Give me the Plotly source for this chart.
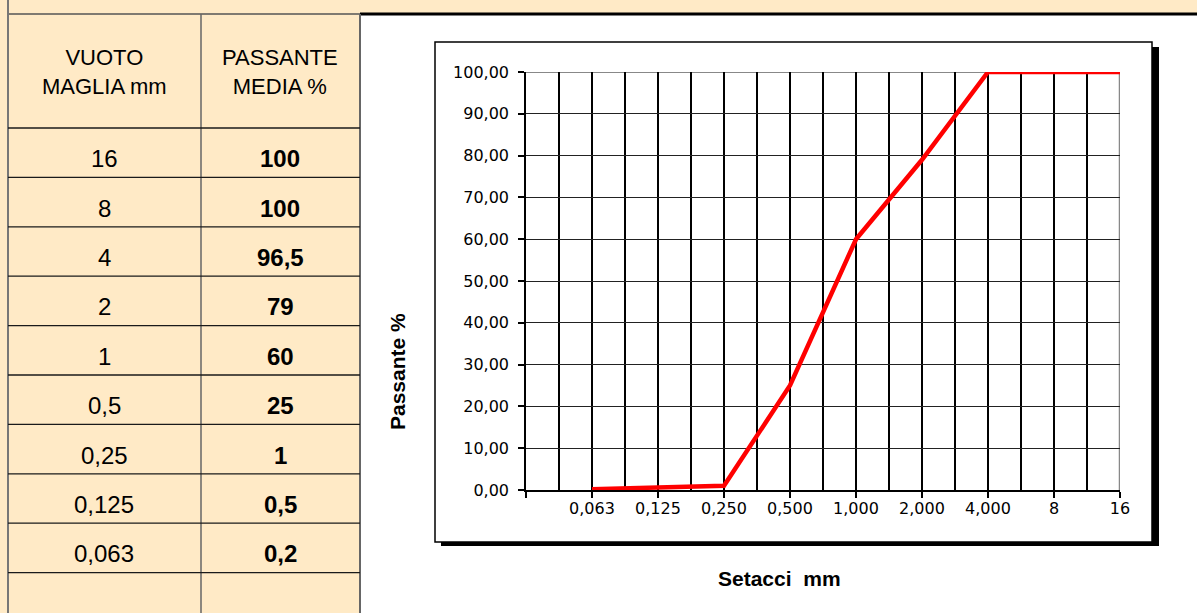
import plotly.graph_objects as go

# ---- data ----
table_sieves = ["16", "8", "4", "2", "1", "0,5", "0,25", "0,125", "0,063"]
table_passing = ["100", "100", "96,5", "79", "60", "25", "1", "0,5", "0,2"]
chart_labels = ["0,063", "0,125", "0,250", "0,500", "1,000", "2,000", "4,000", "8", "16"]
chart_values = [0.2, 0.5, 1, 25, 60, 79, 100, 100, 100]

W, H = 1197, 613
BEIGE = "#FFEAC6"


def fx(x):
    return x / W


def fy(y):
    return 1 - y / H


shapes = []
annotations = []

shapes.append(dict(type="rect", xref="paper", yref="paper", x0=fx(361), x1=1, y0=0, y1=fy(14),
                   fillcolor="white", line=dict(width=0), layer="below"))
shapes.append(dict(type="rect", xref="paper", yref="paper", x0=fx(441), x1=fx(1159), y0=fy(546), y1=fy(47),
                   fillcolor="black", line=dict(width=0), layer="below"))
shapes.append(dict(type="rect", xref="paper", yref="paper", x0=fx(435), x1=fx(1152), y0=fy(542), y1=fy(42),
                   fillcolor="white", line=dict(color="black", width=1.5), layer="below"))
shapes.append(dict(type="line", xref="paper", yref="paper", x0=fx(360), x1=1, y0=fy(14), y1=fy(14),
                   line=dict(color="black", width=3)))
shapes.append(dict(type="line", xref="paper", yref="paper", x0=fx(8), x1=fx(360), y0=fy(14), y1=fy(14),
                   line=dict(color="#555555", width=1.5)))
shapes.append(dict(type="line", xref="paper", yref="paper", x0=fx(8), x1=fx(8), y0=0, y1=1,
                   line=dict(color="#777777", width=2)))
shapes.append(dict(type="line", xref="paper", yref="paper", x0=fx(201), x1=fx(201), y0=0, y1=fy(14),
                   line=dict(color="#666666", width=1.5)))
shapes.append(dict(type="line", xref="paper", yref="paper", x0=fx(360), x1=fx(360), y0=0, y1=fy(14),
                   line=dict(color="#666666", width=2)))

header_bottom = 128
row_h = 49.4
text_drop = 6
n_rows = len(table_sieves) + 1
for i in range(n_rows):
    yy = header_bottom + row_h * i
    shapes.append(dict(type="line", xref="paper", yref="paper", x0=fx(8), x1=fx(360), y0=fy(yy), y1=fy(yy),
                       line=dict(color="#1a1a1a", width=1.3)))

TFONT = "Liberation Sans, Arial, sans-serif"
annotations.append(dict(xref="paper", yref="paper", x=fx(104), y=fy(72), text="VUOTO<br>MAGLIA mm",
                        showarrow=False, font=dict(family=TFONT, size=22, color="black"),
                        xanchor="center", yanchor="middle"))
annotations.append(dict(xref="paper", yref="paper", x=fx(280), y=fy(72), text="PASSANTE<br>MEDIA %",
                        showarrow=False, font=dict(family=TFONT, size=22, color="black"),
                        xanchor="center", yanchor="middle"))
for i, (s, p) in enumerate(zip(table_sieves, table_passing)):
    cy = header_bottom + row_h * (i + 0.5) + text_drop
    annotations.append(dict(xref="paper", yref="paper", x=fx(104), y=fy(cy), text=s, showarrow=False,
                            font=dict(family=TFONT, size=24, color="black"), xanchor="center", yanchor="middle"))
    annotations.append(dict(xref="paper", yref="paper", x=fx(280), y=fy(cy), text="<b>" + p + "</b>",
                            showarrow=False, font=dict(family=TFONT, size=24, color="black"),
                            xanchor="center", yanchor="middle"))

annotations.append(dict(xref="paper", yref="paper", x=fx(397), y=fy(372), text="<b>Passante %</b>",
                        textangle=-90, showarrow=False, font=dict(family=TFONT, size=21, color="black"),
                        xanchor="center", yanchor="middle"))
annotations.append(dict(xref="paper", yref="paper", x=fx(779), y=fy(578), text="<b>Setacci\u00a0 mm</b>",
                        showarrow=False, font=dict(family=TFONT, size=21, color="black"),
                        xanchor="center", yanchor="middle"))

xs = list(range(len(chart_labels)))

shapes.append(dict(type="line", xref="x", yref="paper", x0=xs[-1], x1=xs[-1], y0=fy(490), y1=fy(72),
                   line=dict(color="#888888", width=2.5), layer="between"))
shapes.append(dict(type="line", xref="paper", yref="y", x0=fx(526), x1=fx(1120), y0=100, y1=100,
                   line=dict(color="#888888", width=2), layer="between"))

fig = go.Figure()
fig.add_trace(go.Scatter(x=xs, y=chart_values, mode="lines",
                         line=dict(color="#FF0000", width=4.5), hoverinfo="skip", showlegend=False))

AFONT = "DejaVu Sans, Verdana, sans-serif"
fig.update_layout(
    width=W, height=H,
    autosize=False,
    margin=dict(l=0, r=0, t=0, b=0, pad=0, autoexpand=False),
    paper_bgcolor=BEIGE,
    plot_bgcolor="rgba(0,0,0,0)",
    separators=", ",
    shapes=shapes,
    annotations=annotations,
    showlegend=False,
    xaxis=dict(
        domain=[fx(526), fx(1120)],
        range=[-1, len(chart_labels) - 1],
        automargin=False,
        tickmode="array",
        tickvals=[-1] + xs,
        ticktext=[""] + chart_labels,
        ticks="outside", ticklen=6, tickcolor="black", tickwidth=1.5,
        showgrid=True, gridcolor="black", gridwidth=1.5,
        minor=dict(tickmode="linear", tick0=-0.5, dtick=1, showgrid=True, gridcolor="black", gridwidth=1.5,
                   ticks=""),
        showline=True, linecolor="black", linewidth=1.5,
        zeroline=False,
        tickfont=dict(family=AFONT, size=16, color="black"),
        ticklabelstandoff=-3,
        fixedrange=True,
    ),
    yaxis=dict(
        domain=[fy(490), fy(72)],
        range=[0, 100],
        automargin=False,
        tickmode="linear", tick0=0, dtick=10,
        tickformat=".2f",
        ticks="outside", ticklen=6, tickcolor="black", tickwidth=1.5,
        showgrid=True, gridcolor="#222222", gridwidth=1.3,
        showline=True, linecolor="black", linewidth=1.5,
        zeroline=False,
        tickfont=dict(family=AFONT, size=16, color="black"),
        ticklabelstandoff=6,
        fixedrange=True,
    ),
)

fig.write_html(
    "out.html",
    config={"displayModeBar": False},
    post_script="document.body.style.margin='0';",
)
